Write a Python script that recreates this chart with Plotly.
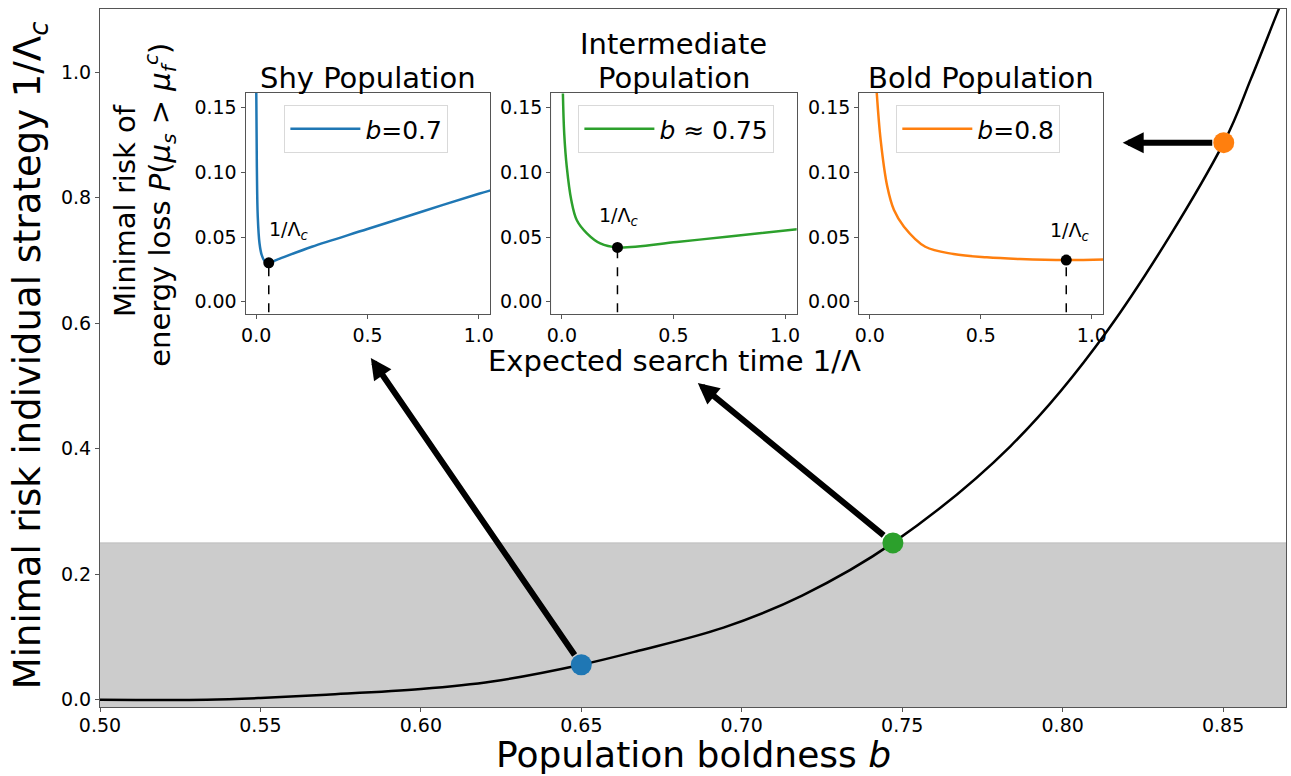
import plotly.graph_objects as go

# ---------------- data ----------------
# main curve: minimal-risk individual strategy vs population boldness
boldness = [0.50, 0.5333, 0.55, 0.5705, 0.60, 0.6222, 0.65, 0.6678, 0.6943,
            0.7188, 0.7471, 0.7837, 0.8137, 0.8502, 0.8587, 0.8665, 0.872]
min_risk_strategy = [0.0, 0.0, 0.0027, 0.008, 0.017, 0.029, 0.0558, 0.078, 0.115,
                     0.166, 0.25, 0.404, 0.5865, 0.888, 0.99, 1.09, 1.16]

highlight_b = [0.65, 0.7471, 0.8502]
highlight_strategy = [0.0558, 0.25, 0.888]
arrow_tip_b = [0.5844, 0.6863, 0.8187]
arrow_tip_strategy = [0.5447, 0.5049, 0.888]

# inset curves: expected search time vs minimal risk of energy loss
shy_time = [0.0, 0.003, 0.007, 0.015, 0.025, 0.04, 0.0565, 0.1, 0.25, 0.5, 0.75, 1.0, 1.06]
shy_risk = [0.17, 0.104, 0.066, 0.045, 0.036, 0.031, 0.0301, 0.0329, 0.0425, 0.0562, 0.070, 0.0835, 0.0865]

mid_time = [0.0045, 0.0105, 0.022, 0.042, 0.067, 0.112, 0.172, 0.249, 0.515, 0.75, 1.06]
mid_risk = [0.161, 0.130, 0.104, 0.0786, 0.063, 0.0529, 0.0451, 0.042, 0.0462, 0.0505, 0.0562]

bold_time = [0.030, 0.049, 0.079, 0.109, 0.154, 0.25, 0.377, 0.527, 0.676, 0.885, 1.06]
bold_risk = [0.165, 0.125, 0.0889, 0.0709, 0.058, 0.0425, 0.0369, 0.0343, 0.033, 0.0322, 0.0327]

crit_time = [0.0565, 0.249, 0.885]
crit_risk = [0.0301, 0.042, 0.0322]

inset_titles = [["Shy Population"], ["Intermediate", "Population"], ["Bold Population"]]
legend_labels = ["<i>b</i>=0.7", "<i>b</i> ≈ 0.75", "<i>b</i>=0.8"]
colors = ["#1f77b4", "#2ca02c", "#ff7f0e"]

main_xticks = [0.50, 0.55, 0.60, 0.65, 0.70, 0.75, 0.80, 0.85]
main_yticks = [0.0, 0.2, 0.4, 0.6, 0.8, 1.0]
inset_xticks = [0.0, 0.5, 1.0]
inset_yticks = [0.0, 0.05, 0.10, 0.15]

# ---------------- layout helpers ----------------
W, H = 1291, 776
ML, MR, MT, MB = 100, 1, 9, 69
PW, PH = W - ML - MR, H - MT - MB


def fx(px):
    return (px - ML) / PW


def fy(py):
    return (H - MB - py) / PH


FONT = "DejaVu Sans"
inset_px = [(246, 491.7), (552.7, 799), (861.7, 1106.7)]
inset_top, inset_bot = 93, 314
label_pos = [(0.149, 0.0554), (0.2575, 0.0657), (0.903, 0.0541)]
legend_left_px = [285, 580, 899]

fig = go.Figure()

# main curve
fig.add_trace(go.Scatter(x=boldness, y=min_risk_strategy, mode="lines",
                         line=dict(color="black", width=2.5, shape="spline", smoothing=1.0),
                         showlegend=False, xaxis="x", yaxis="y"))
for i in range(3):
    fig.add_trace(go.Scatter(x=[highlight_b[i]], y=[highlight_strategy[i]], mode="markers",
                             marker=dict(color=colors[i], size=21), showlegend=False,
                             xaxis="x", yaxis="y"))

shapes = [dict(type="rect", xref="x", yref="y", x0=0.45, x1=0.95, y0=-0.1, y1=0.25,
               fillcolor="#cccccc", line=dict(color="#bdbdbd", width=1), layer="below")]

annotations = []
# arrows
for i in range(3):
    annotations.append(dict(x=arrow_tip_b[i], y=arrow_tip_strategy[i], xref="x", yref="y",
                            ax=highlight_b[i], ay=highlight_strategy[i], axref="x", ayref="y",
                            text="", showarrow=True, arrowhead=2, arrowsize=0.7,
                            arrowwidth=6, arrowcolor="black", startstandoff=10, standoff=0))

inset_data = [(shy_time, shy_risk), (mid_time, mid_risk), (bold_time, bold_risk)]
axis_common = dict(showline=True, mirror=True, linecolor="#555555", linewidth=1,
                   ticks="outside", ticklen=4, tickcolor="#555555", showgrid=False,
                   zeroline=False, tickfont=dict(family=FONT, size=19, color="black"))

layout_axes = {}
for i in range(3):
    n = i + 2
    xa, ya = f"x{n}", f"y{n}"
    t, r = inset_data[i]
    fig.add_trace(go.Scatter(x=t, y=r, mode="lines", name=legend_labels[i],
                             line=dict(color=colors[i], width=2.5, shape="spline", smoothing=1.0),
                             xaxis=xa, yaxis=ya, showlegend=True,
                             legend="legend" if i == 0 else f"legend{i + 1}"))
    fig.add_trace(go.Scatter(x=[crit_time[i], crit_time[i]], y=[-0.05, crit_risk[i]], mode="lines",
                             line=dict(color="black", width=1.5, dash="dash"),
                             xaxis=xa, yaxis=ya, showlegend=False))
    fig.add_trace(go.Scatter(x=[crit_time[i]], y=[crit_risk[i]], mode="markers",
                             marker=dict(color="black", size=11), xaxis=xa, yaxis=ya,
                             showlegend=False))
    shapes.append(dict(type="rect", xref=xa, yref=f"{ya} domain", x0=-0.1, x1=0.25, y0=0, y1=1,
                       fillcolor="#cccccc", line=dict(color="#bdbdbd", width=1), layer="below"))
    annotations.append(dict(x=label_pos[i][0], y=label_pos[i][1], xref=xa, yref=ya,
                            text="1/Λ<sub><i>c</i></sub>", showarrow=False,
                            font=dict(family=FONT, size=19, color="black"),
                            xanchor="center", yanchor="middle"))
    x0p, x1p = inset_px[i]
    layout_axes[f"xaxis{n}"] = dict(domain=[fx(x0p), fx(x1p)], anchor=ya, range=[-0.048, 1.052],
                                    tickvals=inset_xticks, ticktext=[f"{v:.1f}" for v in inset_xticks],
                                    **axis_common)
    layout_axes[f"yaxis{n}"] = dict(domain=[fy(inset_bot), fy(inset_top)], anchor=xa,
                                    range=[-0.0095, 0.1614], tickvals=inset_yticks,
                                    ticktext=[f"{v:.2f}" for v in inset_yticks], **axis_common)
    # titles
    cx = fx((x0p + x1p) / 2)
    lines = inset_titles[i]
    for k, line in enumerate(reversed(lines)):
        annotations.append(dict(x=cx, y=fy(78 - 34 * k), xref="paper", yref="paper",
                                text=line, showarrow=False,
                                font=dict(family=FONT, size=29, color="black"),
                                xanchor="center", yanchor="middle"))

# inset shared labels
annotations.append(dict(x=fx(676.5), y=fy(361), xref="paper", yref="paper",
                        text="Expected search time 1/Λ", showarrow=False,
                        font=dict(family=FONT, size=29, color="black"),
                        xanchor="center", yanchor="middle"))
annotations.append(dict(x=fx(125), y=fy(210), xref="paper", yref="paper",
                        text="Minimal risk of", showarrow=False, textangle=-90,
                        font=dict(family=FONT, size=29, color="black"),
                        xanchor="center", yanchor="middle"))
annotations.append(dict(x=fx(160), y=fy(205), xref="paper", yref="paper",
                        text="energy loss <i>P</i>(<i>μ</i><sub><i>s</i></sub> &gt; "
                             "<i>μ</i><sub><i>f</i></sub><sup><i>c</i></sup>)",
                        showarrow=False, textangle=-90,
                        font=dict(family=FONT, size=29, color="black"),
                        xanchor="center", yanchor="middle"))
# main labels
annotations.append(dict(x=fx(695), y=fy(776), xref="paper", yref="paper",
                        text="Population boldness <i>b</i>", showarrow=False,
                        font=dict(family=FONT, size=36, color="black"),
                        xanchor="center", yanchor="bottom", borderpad=0))
annotations.append(dict(x=fx(30), y=fy(355), xref="paper", yref="paper",
                        text="Minimal risk individual strategy 1/Λ<sub><i>c</i></sub>",
                        showarrow=False, textangle=-90,
                        font=dict(family=FONT, size=37, color="black"),
                        xanchor="center", yanchor="middle"))

legends = {}
for i in range(3):
    key = "legend" if i == 0 else f"legend{i + 1}"
    legends[key] = dict(x=fx(legend_left_px[i]), y=fy(105), xanchor="left", yanchor="top",
                        xref="paper", yref="paper", itemwidth=70,
                        bgcolor="rgba(255,255,255,0.8)", bordercolor="#d9d9d9", borderwidth=1,
                        font=dict(family=FONT, size=25, color="black"))

fig.update_layout(
    width=W, height=H,
    margin=dict(l=ML, r=MR, t=MT, b=MB, pad=0),
    paper_bgcolor="white", plot_bgcolor="white",
    font=dict(family=FONT, color="black"),
    xaxis=dict(domain=[0, 1], anchor="y", range=[0.5, 0.8696], tickvals=main_xticks,
               ticktext=[f"{v:.2f}" for v in main_xticks], ticklabelstandoff=-3, **axis_common),
    yaxis=dict(domain=[0, 1], anchor="x", range=[-0.0116, 1.101], tickvals=main_yticks,
               ticktext=[f"{v:.1f}" for v in main_yticks], **axis_common),
    shapes=shapes, annotations=annotations,
    **layout_axes, **legends,
)

fig.write_html("out.html", config={"displayModeBar": False},
               post_script="document.body.style.margin='0';document.body.style.overflow='hidden';")
